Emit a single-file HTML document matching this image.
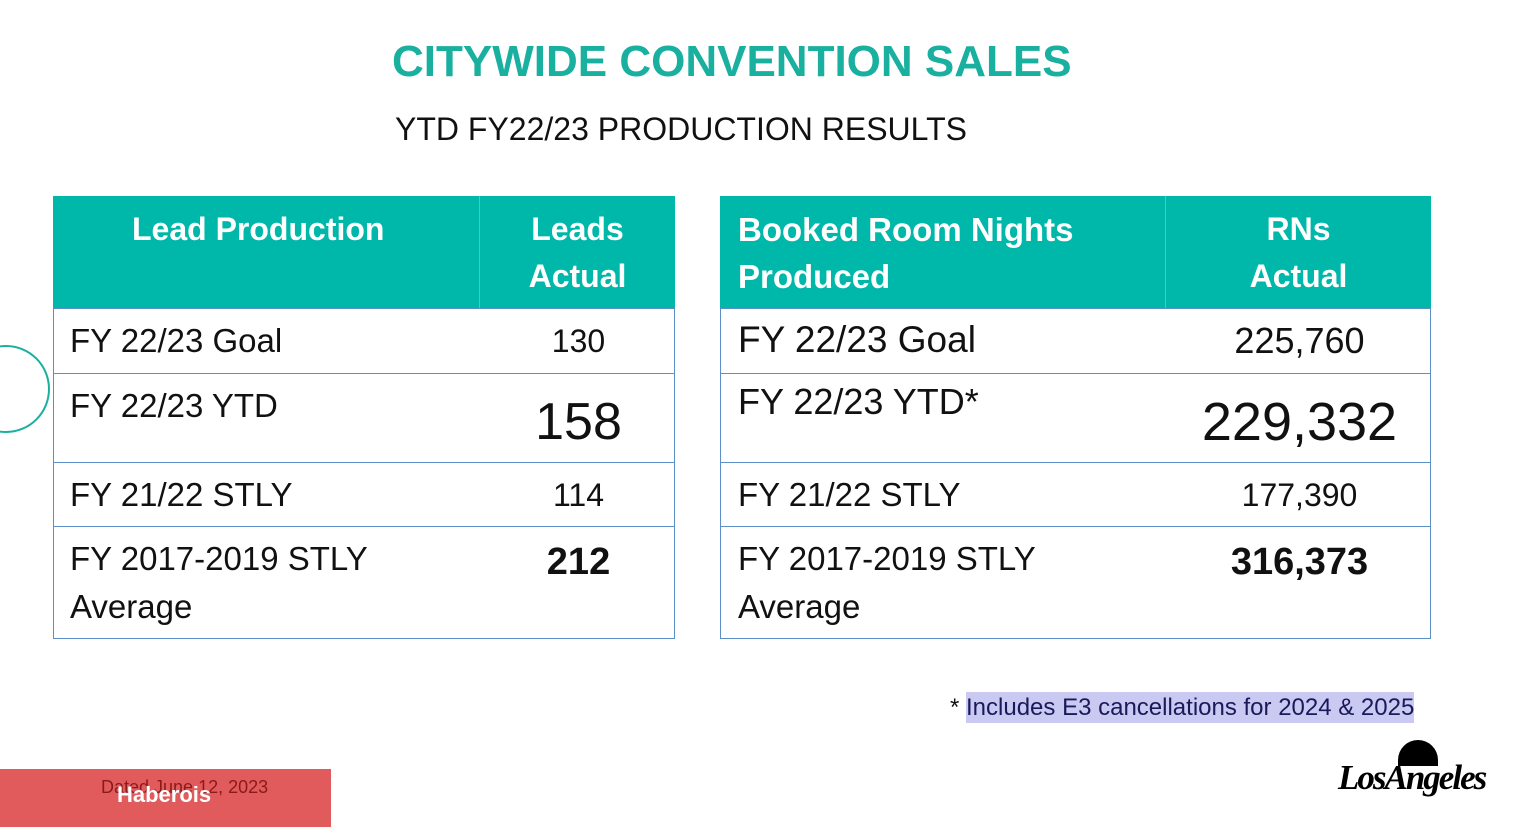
<!DOCTYPE html>
<html><head><meta charset="utf-8"><style>
body{margin:0;width:1524px;height:828px;position:relative;background:#fff;font-family:"Liberation Sans",sans-serif;overflow:hidden}
.a{position:absolute;white-space:nowrap}
.hd{position:absolute;background:#00b8a9;color:#fff;font-weight:bold;font-size:32px;line-height:47px}
.row{position:absolute;border:1px solid #5b8fc7;box-sizing:border-box}
.lbl{position:absolute;color:#111;font-size:33px;line-height:48px}
.val{position:absolute;color:#111;font-size:32px;text-align:center}
</style></head><body>
<div class="a" style="left:392px;top:37px;font-size:44px;font-weight:bold;color:#1ab0a0">CITYWIDE CONVENTION SALES</div>
<div class="a" style="left:395px;top:111px;font-size:32px;color:#111">YTD FY22/23 PRODUCTION RESULTS</div>
<div class="a" style="left:-38px;top:345px;width:84px;height:84px;border:2px solid #1ab0a0;border-radius:50%"></div>

<div>
<div class="hd" style="left:53px;top:196px;width:622px;height:112px">
 <div class="a" style="left:79px;top:10px">Lead Production</div>
 <div style="position:absolute;left:426px;top:0;width:1px;height:112px;background:#3fcfc2"></div>
 <div class="a" style="left:427px;width:195px;top:10px;text-align:center;white-space:normal">Leads<br>Actual</div>
</div>
<div class="row" style="left:53px;top:308px;width:622px;height:66px"><div class="lbl" style="left:16px;top:8px">FY 22/23 Goal</div><div class="val" style="left:427px;width:195px;top:14px">130</div></div>
<div class="row" style="left:53px;top:373px;width:622px;height:90px"><div class="lbl" style="left:16px;top:8px">FY 22/23 YTD</div><div class="val" style="left:427px;width:195px;top:18px;font-size:52px">158</div></div>
<div class="row" style="left:53px;top:462px;width:622px;height:65px"><div class="lbl" style="left:16px;top:8px">FY 21/22 STLY</div><div class="val" style="left:427px;width:195px;top:14px">114</div></div>
<div class="row" style="left:53px;top:526px;width:622px;height:113px"><div class="lbl" style="left:16px;top:8px">FY 2017-2019 STLY<br>Average</div><div class="val" style="left:427px;width:195px;top:14px;font-weight:bold;font-size:38px">212</div></div>
</div>

<div>
<div class="hd" style="left:720px;top:196px;width:711px;height:112px">
 <div class="a" style="left:18px;top:10px;font-size:33px">Booked Room Nights<br>Produced</div>
 <div style="position:absolute;left:445px;top:0;width:1px;height:112px;background:#3fcfc2"></div>
 <div class="a" style="left:446px;width:265px;top:10px;text-align:center;white-space:normal">RNs<br>Actual</div>
</div>
<div class="row" style="left:720px;top:308px;width:711px;height:66px"><div class="lbl" style="left:17px;top:7px;font-size:37px">FY 22/23 Goal</div><div class="val" style="left:446px;width:265px;top:11px;font-size:36px">225,760</div></div>
<div class="row" style="left:720px;top:373px;width:711px;height:90px"><div class="lbl" style="left:17px;top:4px;font-size:36px">FY 22/23 YTD*</div><div class="val" style="left:446px;width:265px;top:17px;font-size:54px">229,332</div></div>
<div class="row" style="left:720px;top:462px;width:711px;height:65px"><div class="lbl" style="left:17px;top:8px">FY 21/22 STLY</div><div class="val" style="left:446px;width:265px;top:14px">177,390</div></div>
<div class="row" style="left:720px;top:526px;width:711px;height:113px"><div class="lbl" style="left:17px;top:8px">FY 2017-2019 STLY<br>Average</div><div class="val" style="left:446px;width:265px;top:14px;font-weight:bold;font-size:38px">316,373</div></div>
</div>

<div class="a" style="left:950px;top:694px;font-size:24px;color:#111">* <span style="background:#c9c9f2;color:#1a1a5a;padding:2px 0">Includes E3 cancellations for 2024 &amp; 2025</span></div>
<div class="a" style="left:0;top:769px;width:331px;height:58px;background:#e15a5c"></div>
<div class="a" style="left:101px;top:777px;font-size:18px;color:#8b1a1a">Dated June 12, 2023</div>
<div class="a" style="left:117px;top:782px;font-size:22px;font-weight:bold;color:#fff">Haberois</div>
<div style="position:absolute;left:1338px;top:738px;width:160px;height:72px">
 <div style="position:absolute;left:60px;top:2px;width:40px;height:26px;background:#000;border-radius:20px 20px 0 0"></div>
 <div class="a" style="left:0;top:20px;font-family:'Liberation Serif',serif;font-style:italic;font-weight:bold;font-size:35px;color:#000;letter-spacing:-2px">LosAngeles</div>
</div>
</body></html>
